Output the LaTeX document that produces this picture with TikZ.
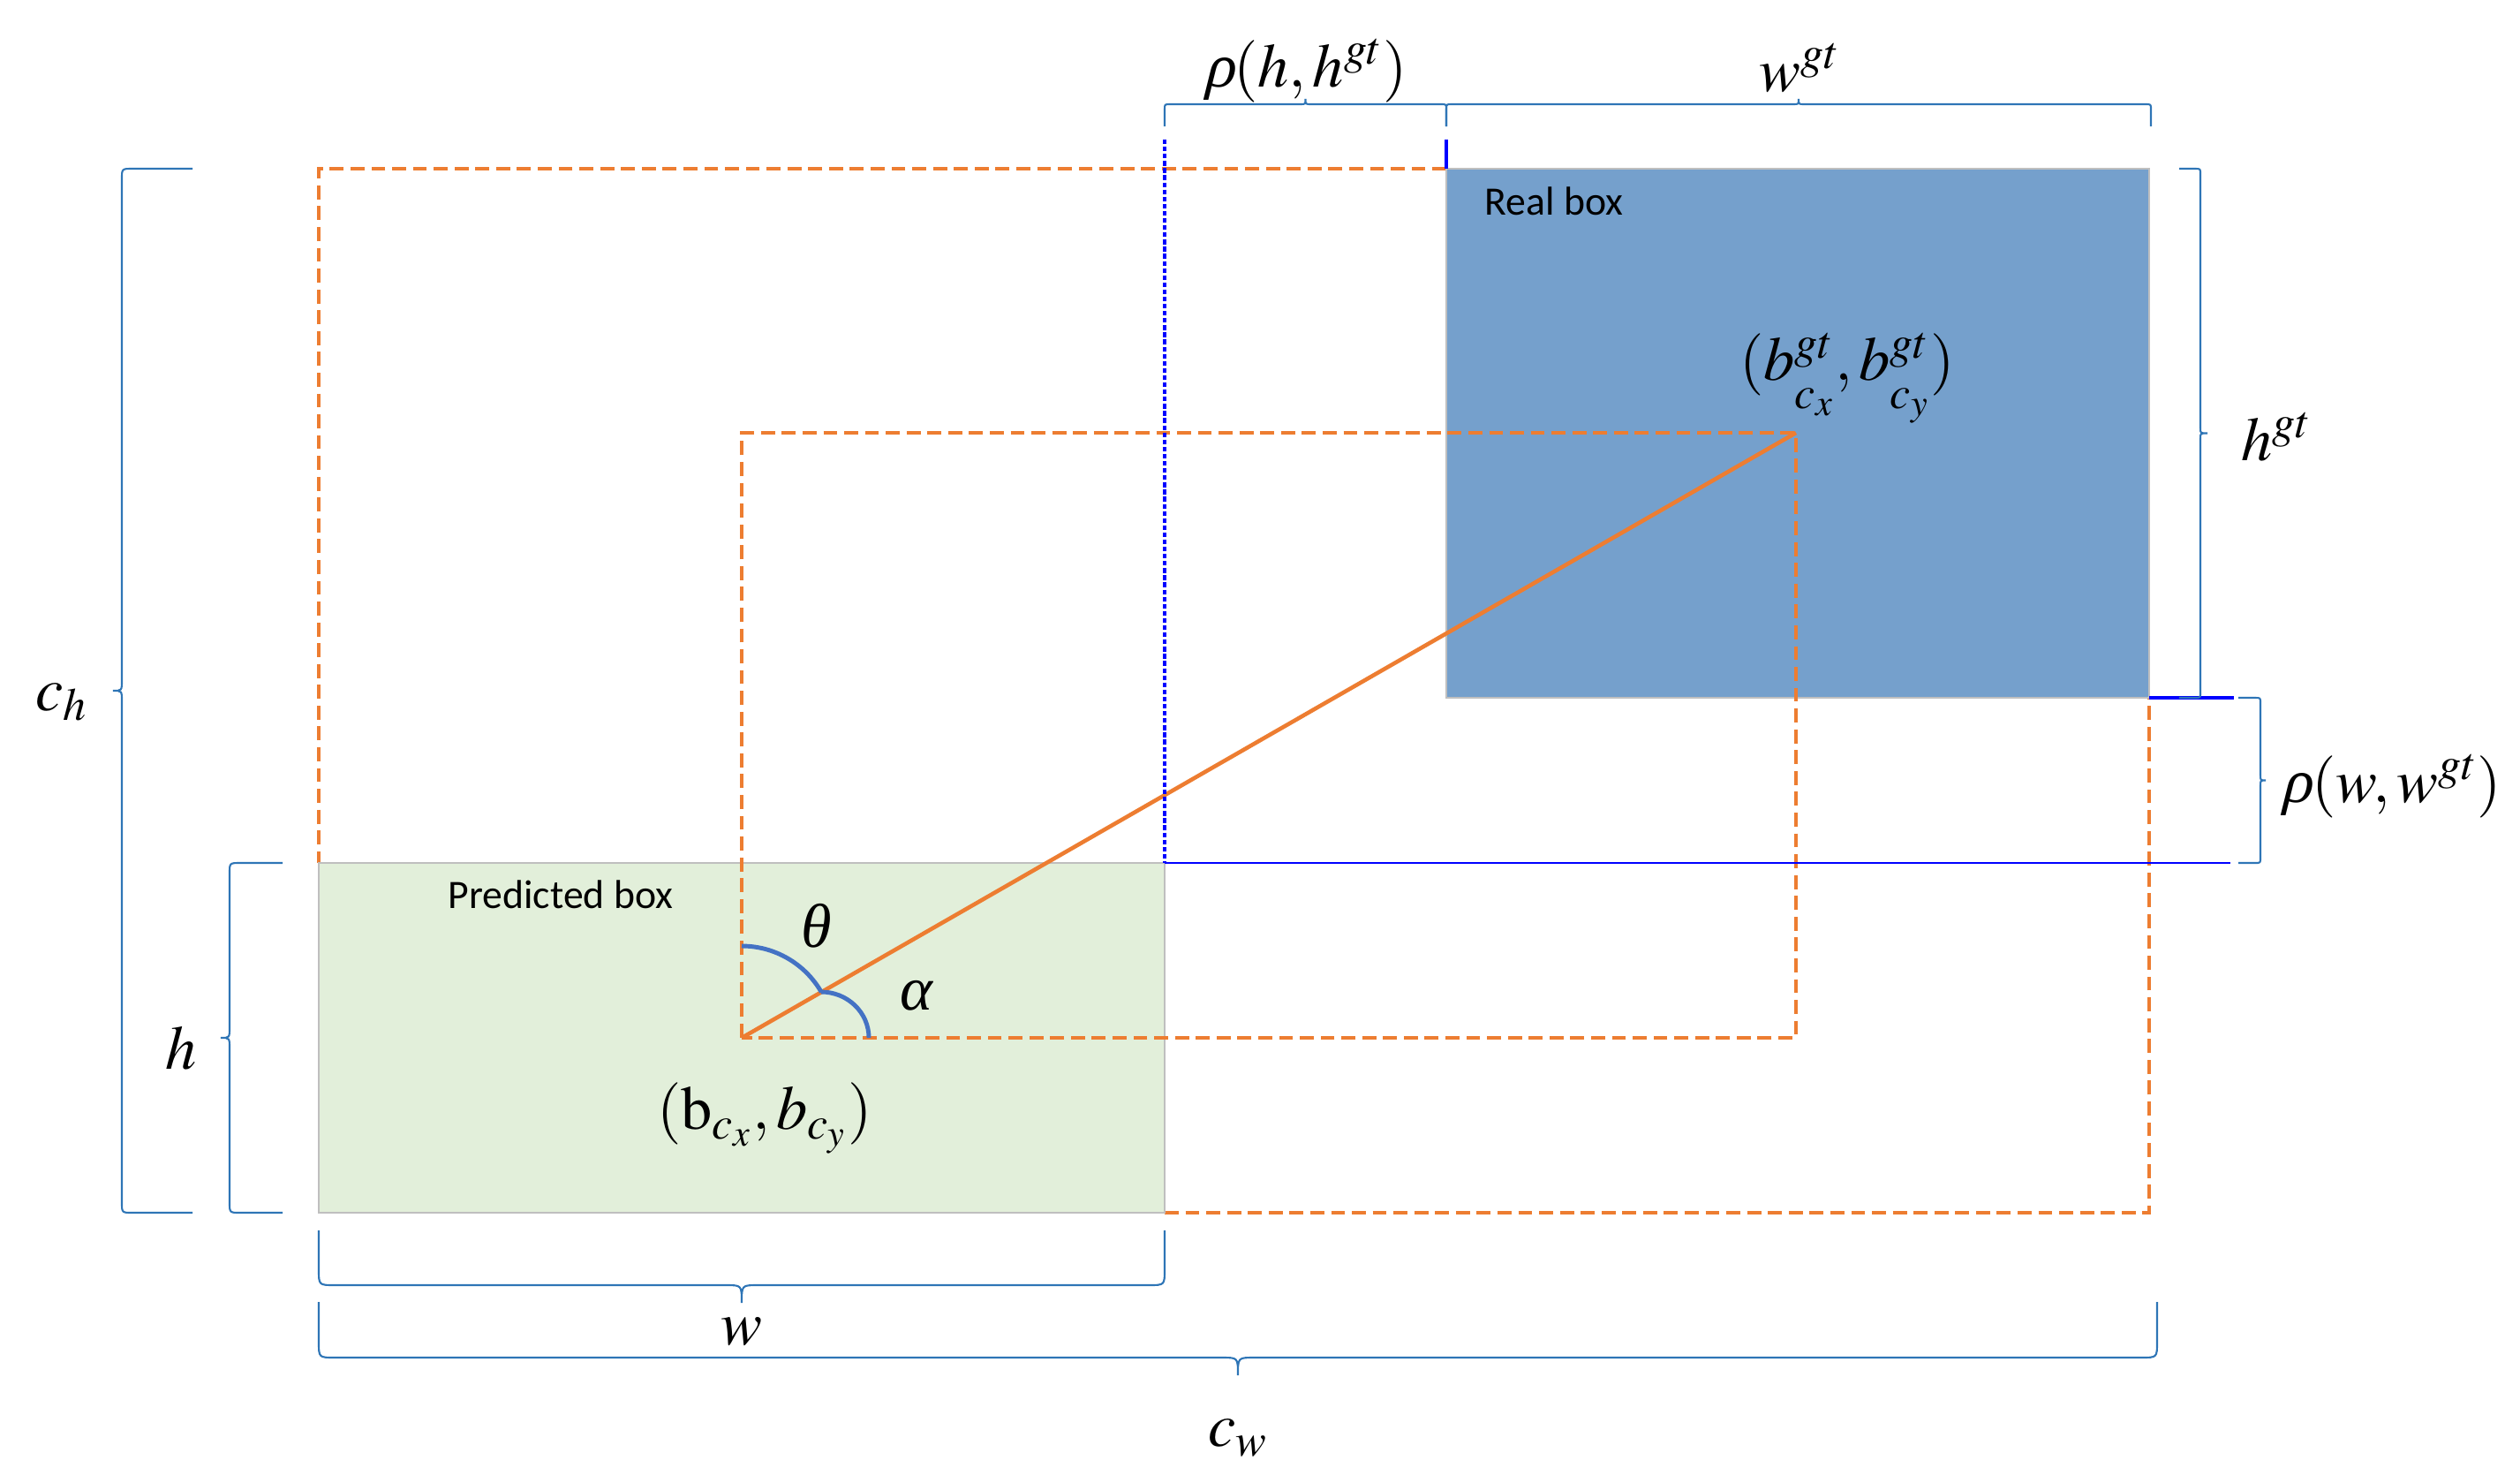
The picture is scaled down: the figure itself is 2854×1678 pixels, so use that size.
\documentclass[tikz,border=0pt]{standalone}
\usepackage{mathptmx}
\usepackage[no-math]{fontspec}
\setmainfont{Liberation Serif}
\newfontfamily\carlito{Carlito}
\newfontfamily\slantgrk[FakeSlant=0.25]{Liberation Serif}
\newcommand\grk[1]{\mbox{\itshape #1}}
\newcommand\rhosym{\mbox{\slantgrk ρ}}
\newcommand\lowsub[1]{\raisebox{-4pt}{$\scriptstyle #1$}}
\definecolor{orng}{RGB}{237,125,49}
\definecolor{brcblue}{RGB}{46,117,182}
\definecolor{arcblue}{RGB}{68,114,196}
\definecolor{predgreen}{RGB}{226,239,218}
\definecolor{realblue}{RGB}{117,160,204}
\definecolor{edgegray}{RGB}{191,191,191}
\tikzset{
  dashbox/.style={draw=orng, line width=1.2pt, dash pattern=on 4.5pt off 2.2pt},
  brcline/.style={draw=brcblue, line width=0.6pt},
  arcline/.style={draw=arcblue, line width=1.4pt},
  lbl/.style={font=\fontsize{20}{24}\selectfont, inner sep=0pt},
  boxlbl/.style={font=\carlito\fontsize{13}{15}\selectfont, anchor=west, inner sep=0pt},
  pics/brc/.style args={#1/#2/#3/#4}{code={
    \draw[brcline] (0,#2) -- (0,#3) .. controls (0,0) .. (#3,0)
      -- ({#1/2-#3},0) .. controls ({#1/2},0) .. ({#1/2},-#4)
      .. controls ({#1/2},0) .. ({#1/2+#3},0)
      -- ({#1-#3},0) .. controls (#1,0) .. (#1,#3) -- (#1,#2);
  }}
}
\begin{document}
\begin{tikzpicture}[x=0.01cm,y=-0.01cm]
  \useasboundingbox (0,0) rectangle (2854,1678);
  \coordinate (pc) at (840,1175); % predicted centre
  \coordinate (gc) at (2034,490); % real centre

  % enclosing box
  \draw[dashbox] (1319,1373) -- (2434,1373) -- (2434,790);
  \draw[dashbox] (1638,191) -- (361,191) -- (361,977);
  \filldraw[fill=predgreen, draw=edgegray, line width=0.6pt] (361,977) rectangle (1319,1373);
  \filldraw[fill=realblue, draw=edgegray, line width=0.6pt] (1638,191) rectangle (2434,790);
  \draw[dashbox] (pc) rectangle (gc);
  \draw[orng, line width=1.3pt] (pc) -- (gc);

  % offsets
  \draw[blue, line width=1.1pt, dash pattern=on 1.5pt off 0.8pt] (1319,158) -- (1319,977);
  \draw[blue, line width=0.8pt] (1319,977) -- (2526,977);
  \draw[blue, line width=1.3pt] (1638,158) -- (1638,191);
  \draw[blue, line width=1.3pt] (2434,790) -- (2530,790);

  % angles
  \draw[arcline] (840,1071) arc[start angle=90, end angle=29.83, radius=1.04cm];
  \draw[arcline] (930,1123) arc[start angle=90, end angle=0, x radius=0.54cm, y radius=0.52cm];

  % braces
  \pic at (1319,118) {brc={319/25/6/6}};
  \pic at (1638,118) {brc={798/25/6/6}};
  \pic[rotate=-90] at (2492,191) {brc={599/24/6/8}};
  \pic[rotate=-90] at (2560,790) {brc={187/25/6/6}};
  \pic[rotate=90] at (138,1373) {brc={1182/80/12/10}};
  \pic[rotate=90] at (260,1373) {brc={396/60/12/10}};
  \pic[rotate=180] at (1319,1455) {brc={958/62/18/20}};
  \pic[rotate=180] at (2443,1537) {brc={2082/63/18/20}};

  % labels
  \node[lbl] (rhoh) at (1478,80) {$\rhosym(h,h^{gt})$};
  \node[lbl] (wgt) at (2038,77) {$w^{gt}$};
  \node[boxlbl] (real) at (1681,228) {Real box};
  \node[lbl] (bgt) at (2092,428) {$(b^{gt}_{\lowsub{c_x}},b^{gt}_{\lowsub{c_y}})$};
  \node[lbl] (hgt) at (2578,495) {$h^{gt}$};
  \node[lbl] (rhow) at (2708,890) {$\rhosym(w,w^{gt})$};
  \node[lbl] (ch) at (70,795) {$c_h$};
  \node[lbl] (h) at (205,1187) {$h$};
  \node[boxlbl] (pred) at (507,1013) {Predicted box};
  \node[lbl] (theta) at (925,1048) {\grk{θ}};
  \node[lbl] (alpha) at (1038,1127) {\grk{α}};
  \node[lbl] (bc) at (866,1266) {$(\mathrm{b}_{c_x},b_{c_y})$};
  \node[lbl] (w) at (840,1508) {$w$};
  \node[lbl] (cw) at (1402,1628) {$c_w$};
\end{tikzpicture}
\end{document}
